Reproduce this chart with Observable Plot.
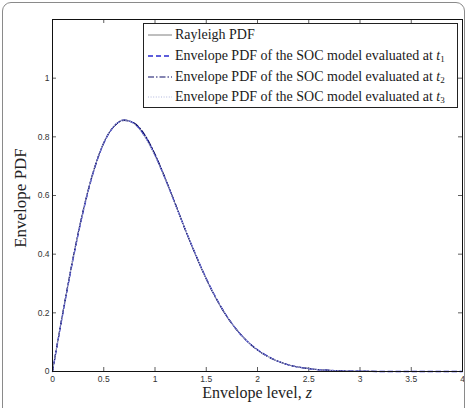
<!DOCTYPE html>
<html>
<head>
<meta charset="utf-8">
<script src="https://cdn.jsdelivr.net/npm/d3@7"></script>
<script src="https://cdn.jsdelivr.net/npm/@observablehq/plot@0.6"></script>
<style>
  html, body { margin: 0; padding: 0; background: #fff; overflow: hidden; }
  #wrap { position: relative; width: 472px; height: 408px; overflow: hidden; }
  #border { position: absolute; left: 2px; top: 2px; width: 463px; height: 440px;
    border: 1.5px solid #8a8a8a; border-radius: 9px; box-sizing: border-box; pointer-events: none; }
  #chart { position: absolute; left: 0; top: 0; }
  .serif { font-family: "Liberation Serif", "Times New Roman", serif; color: #222; position: absolute; white-space: nowrap; }
  #xlabel { font-size: 16px; left: 257px; top: 393px; transform: translate(-50%, -50%); }
  #ylabel { font-size: 17px; left: 21px; top: 198px; transform: translate(-50%, -50%) rotate(-90deg); }
  #legend { position: absolute; left: 143px; top: 23px; width: 315px; height: 85px; box-sizing: border-box;
    border: 1px solid #222; background: #fff; }
  .row { position: absolute; left: 0; height: 20px; display: flex; align-items: center; }
  .row svg { margin-left: 4px; margin-right: 3px; }
  .row span { font-family: "Liberation Serif", "Times New Roman", serif; font-size: 14px; color: #1a1a1a; }
  sub { font-size: 9px; vertical-align: -2px; font-style: normal; }
</style>
</head>
<body>
<div id="wrap">
  <div id="chart"></div>
  <div id="legend"></div>
  <div id="xlabel" class="serif">Envelope level, <i>z</i></div>
  <div id="ylabel" class="serif">Envelope PDF</div>
  <div id="border"></div>
</div>
<script>
// Envelope level z
const zVals = [0, 0.1, 0.2, 0.3, 0.4, 0.5, 0.6, 0.7, 0.8, 0.9, 1.0,
  1.1, 1.2, 1.3, 1.4, 1.5, 1.6, 1.7, 1.8, 1.9, 2.0,
  2.1, 2.2, 2.3, 2.4, 2.5, 2.6, 2.7, 2.8, 2.9, 3.0, 3.2, 3.5, 4.0];
// Rayleigh PDF
const rayleigh = [0, 0.198, 0.384, 0.548, 0.682, 0.779, 0.837, 0.858, 0.844, 0.801, 0.736,
  0.656, 0.569, 0.480, 0.395, 0.316, 0.247, 0.189, 0.141, 0.103, 0.073,
  0.051, 0.035, 0.023, 0.015, 0.010, 0.006, 0.004, 0.002, 0.001, 0.001, 0, 0, 0];
// SOC model envelope PDF at t1
const socT1 = [0, 0.196, 0.382, 0.546, 0.681, 0.778, 0.836, 0.857, 0.845, 0.803, 0.738,
  0.657, 0.569, 0.480, 0.396, 0.317, 0.248, 0.189, 0.141, 0.103, 0.074,
  0.052, 0.035, 0.023, 0.015, 0.010, 0.006, 0.004, 0.002, 0.001, 0.001, 0, 0, 0];
// SOC model envelope PDF at t2
const socT2 = [0, 0.200, 0.387, 0.551, 0.684, 0.780, 0.836, 0.856, 0.846, 0.807, 0.741,
  0.659, 0.570, 0.479, 0.394, 0.315, 0.246, 0.188, 0.141, 0.103, 0.073,
  0.051, 0.035, 0.023, 0.015, 0.010, 0.006, 0.004, 0.002, 0.001, 0.001, 0, 0, 0];
// SOC model envelope PDF at t3
const socT3 = [0, 0.199, 0.385, 0.549, 0.683, 0.779, 0.837, 0.857, 0.843, 0.800, 0.735,
  0.655, 0.568, 0.480, 0.395, 0.316, 0.247, 0.189, 0.141, 0.103, 0.073,
  0.051, 0.035, 0.023, 0.015, 0.010, 0.006, 0.004, 0.002, 0.001, 0.001, 0, 0, 0];

const xTicks = [0, 0.5, 1, 1.5, 2, 2.5, 3, 3.5, 4];
const yTicks = [0, 0.2, 0.4, 0.6, 0.8, 1];

const seriesNames = [
  "Rayleigh PDF",
  "Envelope PDF of the SOC model evaluated at <i>t</i><sub>1</sub>",
  "Envelope PDF of the SOC model evaluated at <i>t</i><sub>2</sub>",
  "Envelope PDF of the SOC model evaluated at <i>t</i><sub>3</sub>"
];
const seriesStyles = [
  {stroke: "#707070", strokeWidth: 0.9, dash: null},
  {stroke: "#2828d0", strokeWidth: 1.3, dash: "5,3"},
  {stroke: "#0c0c66", strokeWidth: 1.1, dash: "6,2,1.5,2"},
  {stroke: "#b0b6dc", strokeWidth: 1, dash: "1,1.6"}
];
const seriesValues = [rayleigh, socT1, socT2, socT3];

const W = 472, H = 408, mL = 52, mR = 10, mT = 19, mB = 37;
const innerW = W - mL - mR, innerH = H - mT - mB, tick = 4;

const lineMarks = seriesValues.map((vals, i) => Plot.line(zVals, {
  x: zVals, y: vals, curve: "monotone-x",
  stroke: seriesStyles[i].stroke, strokeWidth: seriesStyles[i].strokeWidth,
  strokeDasharray: seriesStyles[i].dash
}));

const plot = Plot.plot({
  width: W, height: H,
  marginLeft: mL, marginRight: mR, marginTop: mT, marginBottom: mB,
  x: {domain: [0, 4]},
  y: {domain: [0, 1.2]},
  style: {fontFamily: "'Liberation Sans', Arial, sans-serif", fontSize: "8.5px", color: "#333", background: "transparent", overflow: "visible"},
  marks: [
    Plot.tickX(xTicks, {x: d => d, insetTop: innerH - tick, stroke: "#333", strokeWidth: 0.8}),
    Plot.tickX(xTicks, {x: d => d, insetBottom: innerH - tick, stroke: "#333", strokeWidth: 0.8}),
    Plot.tickY(yTicks, {y: d => d, insetRight: innerW - tick, stroke: "#333", strokeWidth: 0.8}),
    Plot.tickY(yTicks, {y: d => d, insetLeft: innerW - tick, stroke: "#333", strokeWidth: 0.8}),
    Plot.axisX(xTicks, {tickSize: 0, tickPadding: 4, tickFormat: d => String(d), label: null}),
    Plot.axisY(yTicks, {tickSize: 0, tickPadding: 3, tickFormat: d => String(d), label: null}),
    ...lineMarks,
    Plot.frame({stroke: "#111", strokeWidth: 1})
  ]
});
document.getElementById("chart").appendChild(plot);

// legend
const legend = document.getElementById("legend");
const rowTops = [1, 22, 42.5, 62.5];
seriesNames.forEach((name, i) => {
  const row = document.createElement("div");
  row.className = "row";
  row.style.top = rowTops[i] + "px";
  const s = seriesStyles[i];
  row.innerHTML = `<svg width="24" height="10"><line x1="0" y1="5" x2="24" y2="5" stroke="${s.stroke}" stroke-width="${s.strokeWidth}" ${s.dash ? `stroke-dasharray="${s.dash}"` : ""}/></svg><span>${name}</span>`;
  legend.appendChild(row);
});
</script>
</body>
</html>
